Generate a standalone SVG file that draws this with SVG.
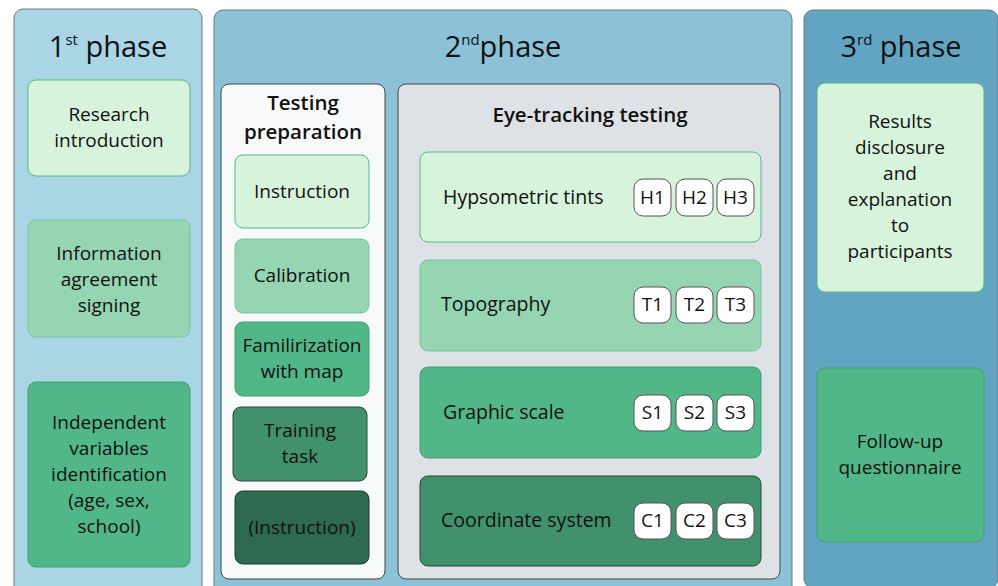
<svg xmlns="http://www.w3.org/2000/svg" width="998" height="586" viewBox="0 0 998 586">
<style>
text{font-family:"Open Sans","Liberation Sans",sans-serif;fill:#111;text-anchor:middle}
.t{font-size:19px}
.h{font-size:29px}
.sub{font-size:15px}
.sh{font-size:20.5px;font-weight:600}
.panel{stroke:#6c7a80;stroke-width:1}
.l1{fill:#d8f3dc;stroke:#52b788;stroke-width:1}
.l2{fill:#95d5b2;stroke:#74c69d;stroke-width:1}
.l3{fill:#52b788;stroke:#40a070;stroke-width:1}
.l4{fill:#40916c;stroke:#2b4a3a;stroke-width:1}
.l5{fill:#2d6a4f;stroke:#1f3a2c;stroke-width:1}
.b{fill:#fff;stroke:#555;stroke-width:1}
.bt{font-size:19px}
.lt{text-anchor:start;font-size:19.5px}
</style>
<g id="phase1">
<rect class="panel" x="14" y="9" width="188" height="600" rx="9" fill="#a9d5e4"/>
<text class="h" x="108" y="57">1<tspan class="sub" dy="-12">st</tspan><tspan dy="12"> phase</tspan></text>
</g>
<g id="research-intro">
<rect class="l1" x="28" y="80" width="162" height="96" rx="8"/>
<text class="t" x="109" y="121">Research</text>
<text class="t" x="109" y="147">introduction</text>
</g>
<g id="info-agreement">
<rect class="l2" x="28" y="220" width="162" height="117" rx="8"/>
<text class="t" x="109" y="260">Information</text>
<text class="t" x="109" y="286">agreement</text>
<text class="t" x="109" y="312">signing</text>
</g>
<g id="independent-vars">
<rect class="l3" x="28" y="382" width="162" height="185" rx="8"/>
<text class="t" x="109" y="429">Independent</text>
<text class="t" x="109" y="455">variables</text>
<text class="t" x="109" y="481">identification</text>
<text class="t" x="109" y="507">(age, sex,</text>
<text class="t" x="109" y="533">school)</text>
</g>
<g id="phase2">
<rect class="panel" x="214" y="10" width="578" height="600" rx="9" fill="#8bc2d8"/>
<text class="h" x="503" y="57">2<tspan class="sub" dy="-12">nd</tspan><tspan dy="12">phase</tspan></text>
</g>
<g id="testing-prep">
<rect x="221" y="84" width="164" height="495" rx="8" fill="#f8f9fa" stroke="#444" stroke-width="1"/>
<text class="sh" x="303" y="110">Testing</text>
<text class="sh" x="303" y="139">preparation</text>
</g>
<g id="instruction">
<rect class="l1" x="235" y="155" width="134" height="73" rx="8"/>
<text class="t" x="302" y="198">Instruction</text>
</g>
<g id="calibration">
<rect class="l2" x="235" y="239" width="134" height="74" rx="8"/>
<text class="t" x="302" y="282">Calibration</text>
</g>
<g id="familiarization">
<rect class="l3" x="235" y="322" width="134" height="74" rx="8"/>
<text class="t" x="302" y="352">Familirization</text>
<text class="t" x="302" y="378">with map</text>
</g>
<g id="training-task">
<rect class="l4" x="233" y="407" width="134" height="74" rx="8"/>
<text class="t" x="300" y="437">Training</text>
<text class="t" x="300" y="463">task</text>
</g>
<g id="instruction2">
<rect class="l5" x="235" y="491" width="134" height="73" rx="8"/>
<text class="t" x="302" y="534">(Instruction)</text>
</g>
<g id="eye-tracking">
<rect x="398" y="84" width="382" height="495" rx="8" fill="#dee2e6" stroke="#444" stroke-width="1"/>
<text class="sh" x="590" y="122">Eye-tracking testing</text>
</g>
<g id="hypsometric">
<rect class="l1" x="420" y="152" width="341" height="90" rx="8"/>
<text class="lt" x="443" y="204">Hypsometric tints</text>
<rect class="b" x="634" y="179" width="37" height="37" rx="9"/><text class="bt" x="652.5" y="204">H1</text>
<rect class="b" x="676" y="179" width="37" height="37" rx="9"/><text class="bt" x="694.5" y="204">H2</text>
<rect class="b" x="717" y="179" width="37" height="37" rx="9"/><text class="bt" x="735.5" y="204">H3</text>
</g>
<g id="topography">
<rect class="l2" x="420" y="260" width="341" height="91" rx="8"/>
<text class="lt" x="441" y="311">Topography</text>
<rect class="b" x="634" y="287" width="37" height="36" rx="9"/><text class="bt" x="652.5" y="311">T1</text>
<rect class="b" x="676" y="287" width="37" height="36" rx="9"/><text class="bt" x="694.5" y="311">T2</text>
<rect class="b" x="717" y="287" width="37" height="36" rx="9"/><text class="bt" x="735.5" y="311">T3</text>
</g>
<g id="graphic-scale">
<rect class="l3" x="420" y="367" width="341" height="91" rx="8"/>
<text class="lt" x="443" y="419">Graphic scale</text>
<rect class="b" x="634" y="395" width="37" height="36" rx="9"/><text class="bt" x="652.5" y="419">S1</text>
<rect class="b" x="676" y="395" width="37" height="36" rx="9"/><text class="bt" x="694.5" y="419">S2</text>
<rect class="b" x="717" y="395" width="37" height="36" rx="9"/><text class="bt" x="735.5" y="419">S3</text>
</g>
<g id="coordinate">
<rect class="l4" x="420" y="476" width="341" height="90" rx="8"/>
<text class="lt" x="441" y="527">Coordinate system</text>
<rect class="b" x="634" y="503" width="37" height="36" rx="9"/><text class="bt" x="652.5" y="527">C1</text>
<rect class="b" x="676" y="503" width="37" height="36" rx="9"/><text class="bt" x="694.5" y="527">C2</text>
<rect class="b" x="717" y="503" width="37" height="36" rx="9"/><text class="bt" x="735.5" y="527">C3</text>
</g>
<g id="phase3">
<rect class="panel" x="804" y="10" width="194" height="578" rx="9" fill="#62a5c2"/>
<text class="h" x="901" y="57">3<tspan class="sub" dy="-12">rd</tspan><tspan dy="12"> phase</tspan></text>
</g>
<g id="results">
<rect class="l1" x="817" y="83" width="167" height="209" rx="8"/>
<text class="t" x="900" y="128">Results</text>
<text class="t" x="900" y="154">disclosure</text>
<text class="t" x="900" y="180">and</text>
<text class="t" x="900" y="206">explanation</text>
<text class="t" x="900" y="232">to</text>
<text class="t" x="900" y="258">participants</text>
</g>
<g id="follow-up">
<rect class="l3" x="817" y="368" width="167" height="174" rx="8"/>
<text class="t" x="900" y="448">Follow-up</text>
<text class="t" x="900" y="474">questionnaire</text>
</g>
<g id="connectors"/>
</svg>
